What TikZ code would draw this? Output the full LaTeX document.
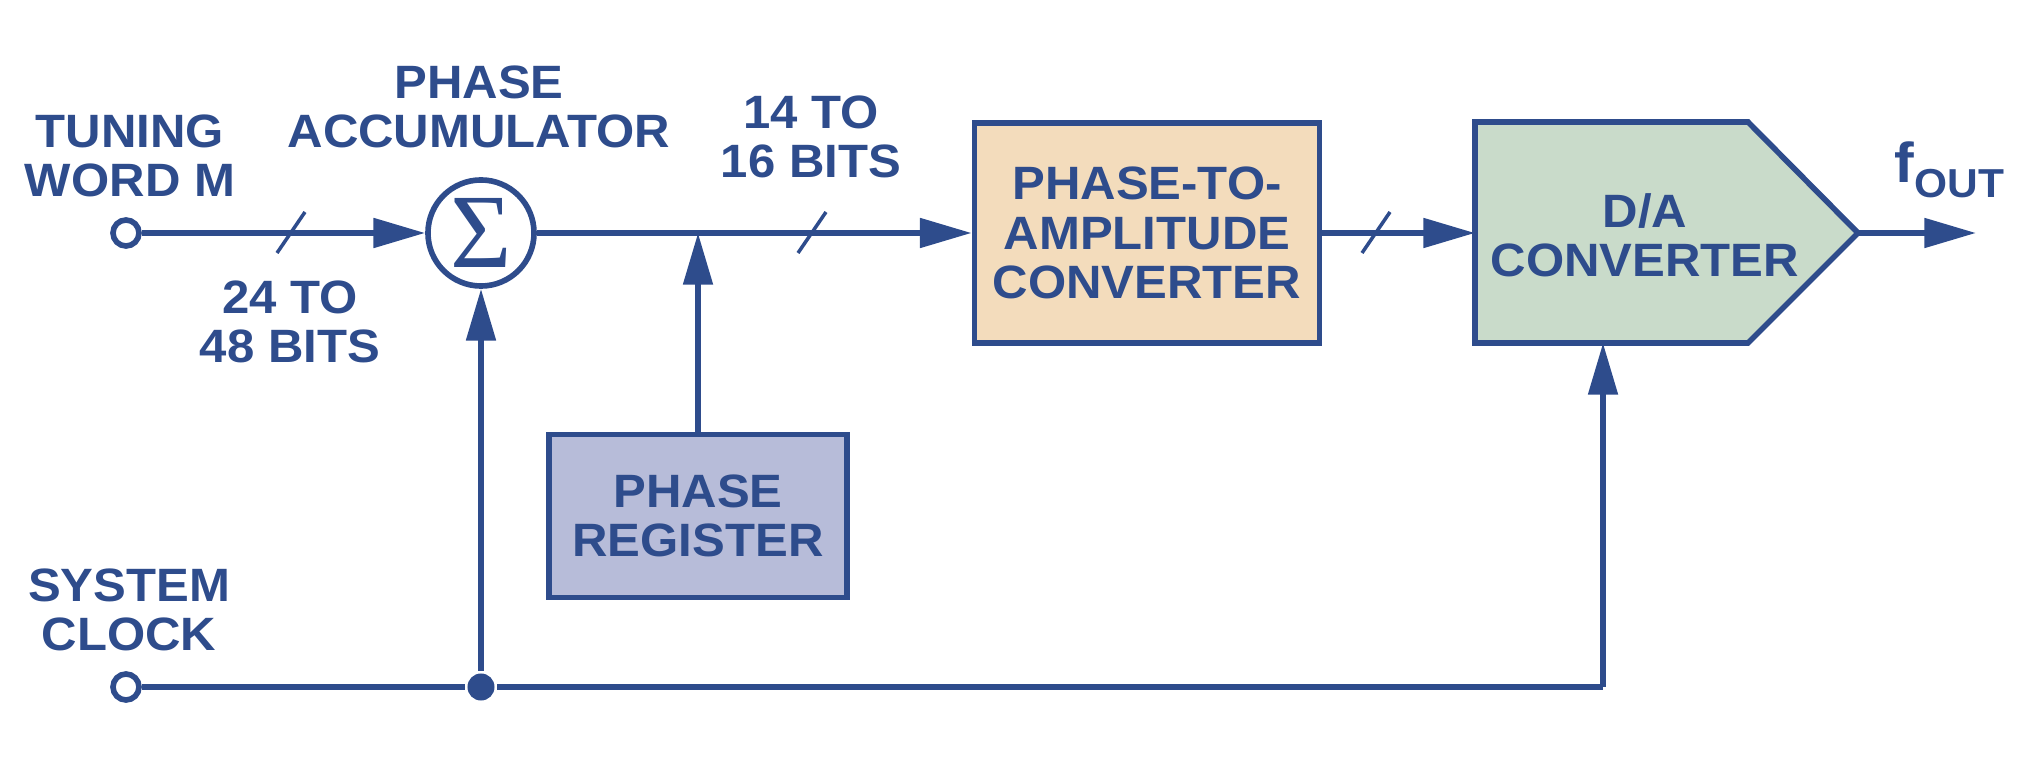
\documentclass[tikz,border=0pt]{standalone}
\usepackage{fontspec}
\setmainfont{Liberation Sans}[FakeStretch=1.05]
\newfontfamily\sigfont{Liberation Serif}
\usetikzlibrary{arrows.meta}
\definecolor{dsblue}{RGB}{46,76,140}
\definecolor{ptacol}{RGB}{243,220,188}
\definecolor{dacol}{RGB}{201,219,202}
\definecolor{regcol}{RGB}{183,188,217}
\begin{document}
\begin{tikzpicture}[x=0.01cm,y=-0.01cm,color=dsblue,line width=1.6pt,
  lbl/.style={text=dsblue,font=\bfseries\fontsize{13.3}{14}\selectfont,align=center,inner sep=0pt},
  blk/.style={lbl,draw=dsblue,line width=1.6pt},
  pin/.style={circle,draw=dsblue,fill=white,line width=1.6pt,minimum size=0.26cm,inner sep=0pt},
  dot/.style={circle,fill=dsblue,minimum size=0.27cm,inner sep=0pt},
  arr/.style={-{Triangle[length=14.7pt,width=8.2pt]}},
  bus/.style={line width=1pt}]
\useasboundingbox (0,0) rectangle (2042,764);

\node[pin] (tun) at (126,233) {};
\node[lbl] (tunl) at (130,156) {TUNING\\WORD M};
\node[circle,draw,line width=1.6pt,minimum size=1.06cm,inner sep=0pt] (sig) at (481,233) {\sigfont\fontsize{30}{30}\selectfont Σ};
\node[lbl] (accl) at (479,107) {PHASE\\ACCUMULATOR};
\node[lbl] (inbits) at (290,322) {24 TO\\48 BITS};
\draw[arr] (tun) -- (sig);
\draw[bus] (277,253) -- (305,212);

\coordinate (jn) at (698,233);
\node[blk,fill=regcol,minimum width=2.98cm,minimum height=1.63cm] (reg) at (698,516) {PHASE\\REGISTER};
\node[lbl] (outbits) at (811,137) {14 TO\\16 BITS};
\node[blk,fill=ptacol,minimum width=3.45cm,minimum height=2.2cm] (pta) at (1147,233) {PHASE-TO-\\AMPLITUDE\\CONVERTER};
\draw[arr] (sig) -- (pta);
\draw[arr] (reg) -- (jn);
\draw[bus] (798,253) -- (826,212);

\coordinate (dnw) at (1475,122);
\coordinate (dne) at (1748,122);
\coordinate (dtip) at (1858,233);
\coordinate (dse) at (1748,343);
\coordinate (dsw) at (1475,343);
\coordinate (din) at (1475,233);
\coordinate (dbot) at (1603,343);
\filldraw[fill=dacol,line join=miter] (dnw) -- (dne) -- (dtip) -- (dse) -- (dsw) -- cycle;
\node[lbl] (dac) at (1645,235) {D/A\\CONVERTER};
\draw[arr] (pta) -- (din);
\draw[bus] (1362,253) -- (1390,212);

\coordinate (out) at (1976,233);
\draw[arr] (dtip) -- (out);
\node[lbl,anchor=base west] (fout) at (1892,183) {{\fontsize{16}{16}\selectfont f}\raisebox{-4pt}{\fontsize{11.5}{12}\selectfont OUT}};

\node[pin] (clk) at (126,687) {};
\node[lbl] (clkl) at (129,610) {SYSTEM\\CLOCK};
\node[dot] (cdot) at (481,687) {};
\coordinate (ccor) at (1603,687);
\draw (clk) -- (cdot) -- (ccor);
\draw[arr] (cdot) -- (sig);
\draw[arr] (ccor) -- (dbot);
\end{tikzpicture}
\end{document}
